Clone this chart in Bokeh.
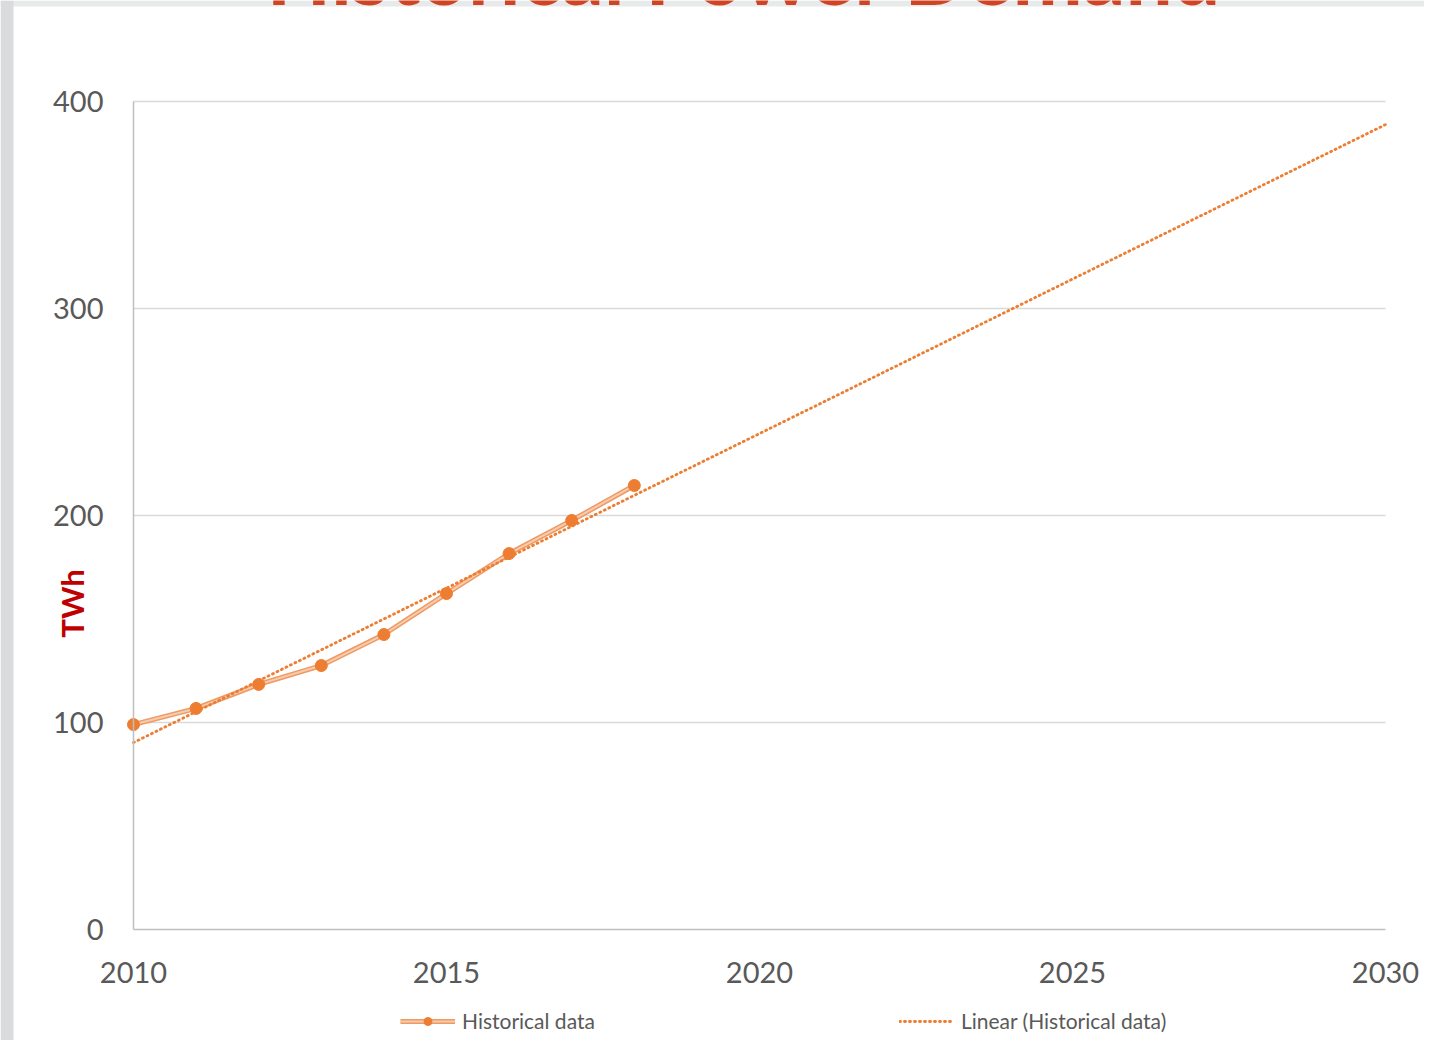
import numpy as np
from bokeh.plotting import figure
from bokeh.models import (Range1d, FixedTicker, Legend, LegendItem, Label,
                          BoxAnnotation, ColumnDataSource)
from bokeh.embed import file_html
from bokeh.resources import INLINE

years = [2010, 2011, 2012, 2013, 2014, 2015, 2016, 2017, 2018]
demand_twh = [99.0, 106.8, 118.4, 127.5, 142.5, 162.3, 181.6, 197.6, 214.5]
x_ticks = [2010, 2015, 2020, 2025, 2030]
y_ticks = [0, 100, 200, 300, 400]
series_name = "Historical data"
trend_name = "Linear (Historical data)"
y_title = "TWh"
slide_title = "Historical Power Demand"

# linear trendline fitted to the historical data, extended to 2030
coef = np.polyfit(np.array(years) - years[0], np.array(demand_twh), 1)
trend_x = [x_ticks[0], x_ticks[-1]]
trend_y = [float(np.polyval(coef, t - years[0])) for t in trend_x]

FONT = "Lato"
GREY_TXT = "#595959"
ORANGE = "#ED7D31"

# ---- layout (pixels): the frame fills the whole canvas ----
W, H = 1424, 1040
PLOT_L, PLOT_T = 133, 101          # plot-area corner (2010, 400)
PPX = 1252 / (x_ticks[-1] - x_ticks[0])   # px per year
PPY = 828 / (y_ticks[-1] - y_ticks[0])    # px per TWh
X0 = x_ticks[0] - PLOT_L / PPX
YTOP = y_ticks[-1] + PLOT_T / PPY


def dx(px):
    return X0 + px / PPX


def dy(py):
    return YTOP - py / PPY


p = figure(frame_width=W, frame_height=H,
           min_border_left=0, min_border_right=0, min_border_top=0, min_border_bottom=0,
           x_range=Range1d(X0, dx(W)), y_range=Range1d(dy(H), YTOP),
           output_backend="svg", toolbar_location=None,
           background_fill_color="white", border_fill_color="white")
p.outline_line_color = None
p.xgrid.grid_line_color = None
p.ygrid.grid_line_color = None

# slide chrome: grey bands at the top and left edges, slide title cut off at the top
p.add_layout(BoxAnnotation(bottom=dy(6), top=dy(0), fill_color="#E8E9EA",
                           fill_alpha=1, line_color=None))
p.add_layout(BoxAnnotation(left=dx(0), right=dx(13), fill_color="#D9DBDD",
                           fill_alpha=1, line_color=None))
p.add_layout(Label(x=dx(266), y=dy(-28.5), text=slide_title, text_align="left",
                   text_baseline="alphabetic", text_font=FONT, text_font_style="bold",
                   text_font_size="84px", text_color="#D04423"))

# horizontal gridlines across the plot area only
p.segment(x0=[x_ticks[0]] * (len(y_ticks) - 1), x1=[x_ticks[-1]] * (len(y_ticks) - 1),
          y0=y_ticks[1:], y1=y_ticks[1:], line_color="#D9D9D9", line_width=1.5)

p.xaxis.ticker = FixedTicker(ticks=x_ticks)
p.yaxis.ticker = FixedTicker(ticks=y_ticks)
p.xaxis.fixed_location = y_ticks[0]
p.yaxis.fixed_location = x_ticks[0]
p.xaxis.bounds = (x_ticks[0], x_ticks[-1])
p.yaxis.bounds = (y_ticks[0], y_ticks[-1])
for ax in (p.xaxis[0], p.yaxis[0]):
    ax.major_tick_line_color = None
    ax.minor_tick_line_color = None
    ax.major_tick_out = 0
    ax.major_tick_in = 0
    ax.axis_line_color = "#BFBFBF"
    ax.axis_line_width = 1.5
    ax.major_label_text_font = FONT
    ax.major_label_text_font_size = "29px"
    ax.major_label_text_color = GREY_TXT
p.yaxis.major_label_standoff = 30
p.xaxis.major_label_standoff = 32

src = ColumnDataSource(dict(x=years, y=demand_twh))
l_out = p.line("x", "y", source=src, line_color="#EE9A64", line_width=5)
l_in = p.line("x", "y", source=src, line_color="#F8CBAD", line_width=2)
dots = p.scatter("x", "y", source=src, size=12, fill_color=ORANGE, line_color=ORANGE)
trend = p.line(trend_x, trend_y, line_color=ORANGE, line_width=2.8,
               line_dash="1 4", line_cap="round")

p.add_layout(Label(x=dx(71), y=dy(603), text=y_title, angle=np.pi / 2,
                   text_align="center", text_baseline="middle",
                   text_font=FONT, text_font_style="bold",
                   text_font_size="31px", text_color="#C00000"))

legend = Legend(items=[LegendItem(label=series_name, renderers=[l_out, l_in, dots]),
                       LegendItem(label=trend_name, renderers=[trend])],
                orientation="horizontal", location=(400, H - 1033),
                spacing=304, padding=0, margin=0,
                glyph_width=55, glyph_height=20, label_standoff=7,
                label_text_font=FONT, label_text_font_size="21px",
                label_text_color=GREY_TXT,
                border_line_color=None, background_fill_alpha=0)
p.add_layout(legend, "center")

open("out.html", "w").write(file_html(p, INLINE))
